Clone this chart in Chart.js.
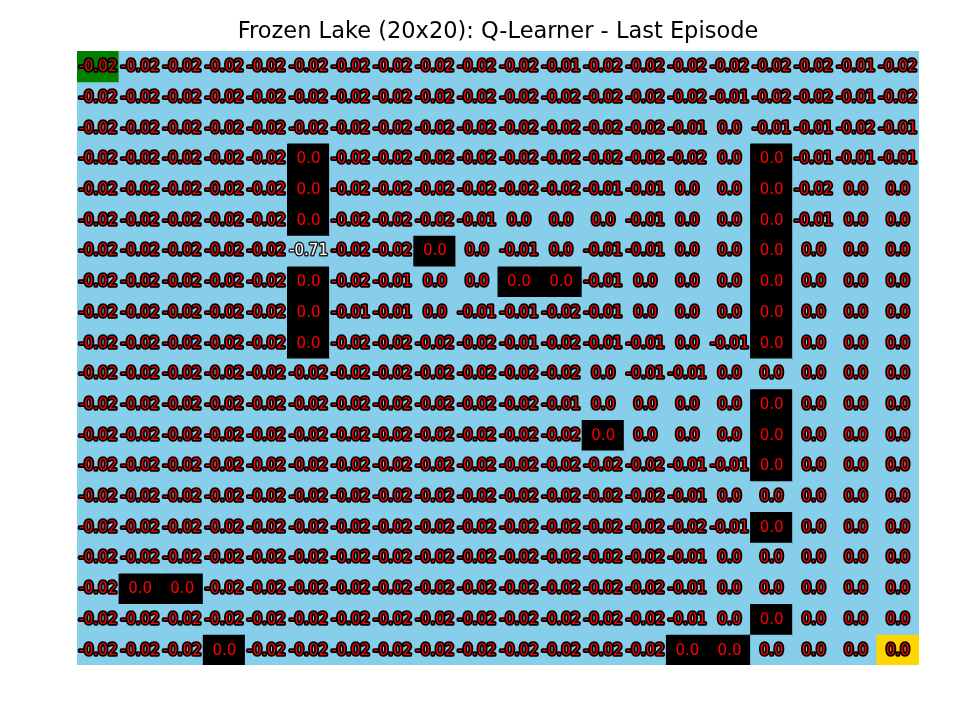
<!DOCTYPE html>
<html><head><meta charset="utf-8">
<script src="https://cdn.jsdelivr.net/npm/chart.js@4"></script>
<style>html,body{margin:0;padding:0;background:#fff}#wrap{width:960px;height:720px}</style>
</head><body><div id="wrap"><canvas id="c" width="960" height="720"></canvas></div>
<script>
const chartTitle = "Frozen Lake (20x20): Q-Learner - Last Episode";
const columnLabels = ["0","1","2","3","4","5","6","7","8","9","10","11","12","13","14","15","16","17","18","19"];
// S = start, F = frozen, H = hole, G = goal
const lakeMap = [
  "SFFFFFFFFFFFFFFFFFFF",
  "FFFFFFFFFFFFFFFFFFFF",
  "FFFFFFFFFFFFFFFFFFFF",
  "FFFFFHFFFFFFFFFFHFFF",
  "FFFFFHFFFFFFFFFFHFFF",
  "FFFFFHFFFFFFFFFFHFFF",
  "FFFFFFFFHFFFFFFFHFFF",
  "FFFFFHFFFFHHFFFFHFFF",
  "FFFFFHFFFFFFFFFFHFFF",
  "FFFFFHFFFFFFFFFFHFFF",
  "FFFFFFFFFFFFFFFFFFFF",
  "FFFFFFFFFFFFFFFFHFFF",
  "FFFFFFFFFFFFHFFFHFFF",
  "FFFFFFFFFFFFFFFFHFFF",
  "FFFFFFFFFFFFFFFFFFFF",
  "FFFFFFFFFFFFFFFFHFFF",
  "FFFFFFFFFFFFFFFFFFFF",
  "FHHFFFFFFFFFFFFFFFFF",
  "FFFFFFFFFFFFFFFFHFFF",
  "FFFHFFFFFFFFFFHHFFFG"
];
const agentCell = [6, 5];
const qRow0  = [-0.02,-0.02,-0.02,-0.02,-0.02,-0.02,-0.02,-0.02,-0.02,-0.02,-0.02,-0.01,-0.02,-0.02,-0.02,-0.02,-0.02,-0.02,-0.01,-0.02];
const qRow1  = [-0.02,-0.02,-0.02,-0.02,-0.02,-0.02,-0.02,-0.02,-0.02,-0.02,-0.02,-0.02,-0.02,-0.02,-0.02,-0.01,-0.02,-0.02,-0.01,-0.02];
const qRow2  = [-0.02,-0.02,-0.02,-0.02,-0.02,-0.02,-0.02,-0.02,-0.02,-0.02,-0.02,-0.02,-0.02,-0.02,-0.01,0.0,-0.01,-0.01,-0.02,-0.01];
const qRow3  = [-0.02,-0.02,-0.02,-0.02,-0.02,0.0,-0.02,-0.02,-0.02,-0.02,-0.02,-0.02,-0.02,-0.02,-0.02,0.0,0.0,-0.01,-0.01,-0.01];
const qRow4  = [-0.02,-0.02,-0.02,-0.02,-0.02,0.0,-0.02,-0.02,-0.02,-0.02,-0.02,-0.02,-0.01,-0.01,0.0,0.0,0.0,-0.02,0.0,0.0];
const qRow5  = [-0.02,-0.02,-0.02,-0.02,-0.02,0.0,-0.02,-0.02,-0.02,-0.01,0.0,0.0,0.0,-0.01,0.0,0.0,0.0,-0.01,0.0,0.0];
const qRow6  = [-0.02,-0.02,-0.02,-0.02,-0.02,-0.71,-0.02,-0.02,0.0,0.0,-0.01,0.0,-0.01,-0.01,0.0,0.0,0.0,0.0,0.0,0.0];
const qRow7  = [-0.02,-0.02,-0.02,-0.02,-0.02,0.0,-0.02,-0.01,0.0,0.0,0.0,0.0,-0.01,0.0,0.0,0.0,0.0,0.0,0.0,0.0];
const qRow8  = [-0.02,-0.02,-0.02,-0.02,-0.02,0.0,-0.01,-0.01,0.0,-0.01,-0.01,-0.02,-0.01,0.0,0.0,0.0,0.0,0.0,0.0,0.0];
const qRow9  = [-0.02,-0.02,-0.02,-0.02,-0.02,0.0,-0.02,-0.02,-0.02,-0.02,-0.01,-0.02,-0.01,-0.01,0.0,-0.01,0.0,0.0,0.0,0.0];
const qRow10 = [-0.02,-0.02,-0.02,-0.02,-0.02,-0.02,-0.02,-0.02,-0.02,-0.02,-0.02,-0.02,0.0,-0.01,-0.01,0.0,0.0,0.0,0.0,0.0];
const qRow11 = [-0.02,-0.02,-0.02,-0.02,-0.02,-0.02,-0.02,-0.02,-0.02,-0.02,-0.02,-0.01,0.0,0.0,0.0,0.0,0.0,0.0,0.0,0.0];
const qRow12 = [-0.02,-0.02,-0.02,-0.02,-0.02,-0.02,-0.02,-0.02,-0.02,-0.02,-0.02,-0.02,0.0,0.0,0.0,0.0,0.0,0.0,0.0,0.0];
const qRow13 = [-0.02,-0.02,-0.02,-0.02,-0.02,-0.02,-0.02,-0.02,-0.02,-0.02,-0.02,-0.02,-0.02,-0.02,-0.01,-0.01,0.0,0.0,0.0,0.0];
const qRow14 = [-0.02,-0.02,-0.02,-0.02,-0.02,-0.02,-0.02,-0.02,-0.02,-0.02,-0.02,-0.02,-0.02,-0.02,-0.01,0.0,0.0,0.0,0.0,0.0];
const qRow15 = [-0.02,-0.02,-0.02,-0.02,-0.02,-0.02,-0.02,-0.02,-0.02,-0.02,-0.02,-0.02,-0.02,-0.02,-0.02,-0.01,0.0,0.0,0.0,0.0];
const qRow16 = [-0.02,-0.02,-0.02,-0.02,-0.02,-0.02,-0.02,-0.02,-0.02,-0.02,-0.02,-0.02,-0.02,-0.02,-0.01,0.0,0.0,0.0,0.0,0.0];
const qRow17 = [-0.02,0.0,0.0,-0.02,-0.02,-0.02,-0.02,-0.02,-0.02,-0.02,-0.02,-0.02,-0.02,-0.02,-0.01,0.0,0.0,0.0,0.0,0.0];
const qRow18 = [-0.02,-0.02,-0.02,-0.02,-0.02,-0.02,-0.02,-0.02,-0.02,-0.02,-0.02,-0.02,-0.02,-0.02,-0.01,0.0,0.0,0.0,0.0,0.0];
const qRow19 = [-0.02,-0.02,-0.02,0.0,-0.02,-0.02,-0.02,-0.02,-0.02,-0.02,-0.02,-0.02,-0.02,-0.02,0.0,0.0,0.0,0.0,0.0,0.0];
const qValues = [qRow0,qRow1,qRow2,qRow3,qRow4,qRow5,qRow6,qRow7,qRow8,qRow9,qRow10,qRow11,qRow12,qRow13,qRow14,qRow15,qRow16,qRow17,qRow18,qRow19];

const tileColors = { S: '#008000', F: '#87CEEB', H: '#000000', G: '#FFD700' };

function fmt(v) {
  if (v === 0) return '0.0';
  return Number.isInteger(v) ? v.toFixed(1) : String(v);
}

const datasets = qValues.map((row, r) => ({
  label: 'row ' + r,
  data: row.map(() => [r, r + 1]),
  backgroundColor: row.map((_, c) => tileColors[lakeMap[r][c]]),
  borderWidth: 0,
  inflateAmount: 0.5,
  grouped: false,
  barPercentage: 1,
  categoryPercentage: 1
}));

const cellText = {
  id: 'cellText',
  afterDatasetsDraw(chart) {
    const { ctx, scales: { x, y } } = chart;
    ctx.save();
    ctx.textAlign = 'center';
    ctx.textBaseline = 'middle';
    ctx.lineJoin = 'round';
    for (let r = 0; r < qValues.length; r++) {
      for (let c = 0; c < qValues[r].length; c++) {
        const px = x.getPixelForValue(c);
        const py = y.getPixelForValue(r + 0.5) + 1;
        const txt = fmt(qValues[r][c]);
        const t = lakeMap[r][c];
        ctx.font = '15px "DejaVu Sans"';
        if (t === 'H') {
          ctx.fillStyle = '#ff0000';
          ctx.fillText(txt, px, py);
        } else {
          const isAgent = r === agentCell[0] && c === agentCell[1];
          ctx.strokeStyle = isAgent ? '#222222' : '#000000';
          ctx.lineWidth = isAgent ? 3 : 3.5;
          ctx.strokeText(txt, px, py);
          ctx.fillStyle = isAgent ? '#ffffff' : '#ff0000';
          ctx.fillText(txt, px, py);
        }
      }
    }
    ctx.restore();
  }
};

new Chart(document.getElementById('c'), {
  type: 'bar',
  data: { labels: columnLabels, datasets },
  options: {
    responsive: false,
    animation: false,
    events: [],
    layout: { padding: { left: 77, right: 41, top: 0, bottom: 55 } },
    scales: {
      x: { type: 'category', display: false, offset: true, grid: { display: false } },
      y: { type: 'linear', min: 0, max: 20, reverse: true, display: false, grid: { display: false } }
    },
    plugins: {
      legend: { display: false },
      tooltip: { enabled: false },
      title: {
        display: true,
        text: chartTitle,
        color: '#000000',
        font: { family: 'DejaVu Sans', size: 22.5, weight: 'normal', lineHeight: 1.2 },
        padding: { top: 19, bottom: 5 }
      }
    }
  },
  plugins: [cellText]
});
</script>
</body></html>
